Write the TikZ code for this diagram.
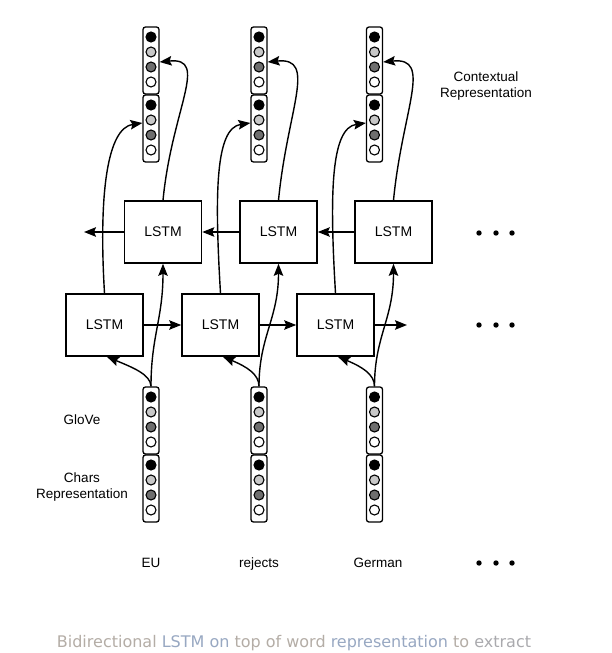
\documentclass[tikz,border=0pt]{standalone}
\usepackage{fontspec}
\setmainfont{Liberation Sans}
\newfontfamily\capfont{DejaVu Sans}
\usetikzlibrary{arrows.meta}
\definecolor{midgray}{RGB}{110,110,110}
\definecolor{lightgray}{RGB}{200,200,200}
\definecolor{captan}{RGB}{180,173,166}
\definecolor{capblue}{RGB}{152,168,194}
\definecolor{capgray}{RGB}{170,170,174}
\tikzset{
  vecbox/.style={draw, line width=1.3pt, rounded corners=2.5pt, minimum width=16pt, minimum height=67pt, inner sep=0pt},
  cdot/.style={draw, circle, line width=1.1pt, minimum size=10pt, inner sep=0pt},
  lstm/.style={draw, line width=1.6pt, minimum width=77pt, minimum height=62pt, inner sep=0pt, font=\fontsize{14}{16}\selectfont},
  arr/.style={line width=1.4pt, -{Stealth[length=12pt,width=9.5pt,inset=2pt]}},
  lbl/.style={font=\fontsize{13.5}{16}\selectfont, align=center, inner sep=0pt},
  ell/.style={circle, fill=black, minimum size=5.4pt, inner sep=0pt}
}
\newcommand\wordvec[3]{%
  \node[vecbox] (#1a) at (#2,#3+33.5) {};
  \node[vecbox] (#1b) at (#2,#3+101.5) {};
  \node[cdot, fill=black]     (#1a1) at (#2,#3+10) {};
  \node[cdot, fill=lightgray] (#1a2) at (#2,#3+25) {};
  \node[cdot, fill=midgray]   (#1a3) at (#2,#3+40) {};
  \node[cdot, fill=white]     (#1a4) at (#2,#3+55) {};
  \node[cdot, fill=black]     (#1b1) at (#2,#3+78) {};
  \node[cdot, fill=lightgray] (#1b2) at (#2,#3+93) {};
  \node[cdot, fill=midgray]   (#1b3) at (#2,#3+108) {};
  \node[cdot, fill=white]     (#1b4) at (#2,#3+123) {};
}
\begin{document}
\begin{tikzpicture}[x=1pt,y=-1pt]
\useasboundingbox (0,0) rectangle (611,653);
\fill[white] (0,0) rectangle (611,653);

% word vectors
\wordvec{t1}{151}{27}
\wordvec{t2}{259}{27}
\wordvec{t3}{374.5}{27}
\wordvec{b1}{151}{387}
\wordvec{b2}{259}{387}
\wordvec{b3}{374.5}{387}

% LSTM boxes
\node[lstm] (f1) at (104.5,325) {LSTM};
\node[lstm] (f2) at (220.5,325) {LSTM};
\node[lstm] (f3) at (335.5,325) {LSTM};
\node[lstm] (r1) at (163,232) {LSTM};
\node[lstm] (r2) at (278.5,232) {LSTM};
\node[lstm] (r3) at (393.5,232) {LSTM};

\coordinate (fend) at (407,325);
\coordinate (rend) at (84,232);

% horizontal arrows
\draw[arr] (f1.east) -- (f2.west);
\draw[arr] (f2.east) -- (f3.west);
\draw[arr] (f3.east) -- (fend);
\draw[arr] (r3.west) -- (r2.east);
\draw[arr] (r2.west) -- (r1.east);
\draw[arr] (r1.west) -- (rend);

% inputs to LSTMs and LSTMs to outputs
\foreach \i in {1,2,3}{
  \draw[arr] (b\i a.north) .. controls +(0,-12) and +(24,10) .. ([xshift=2.5pt]f\i.south);
  \draw[arr] (b\i a.north) .. controls +(0,-50) and +(0,55) .. (r\i.south);
  \draw[arr] (f\i.north) .. controls +(-6,-100) and +(-35,5) .. ([yshift=5.5pt]t\i b.west);
  \draw[arr] (r\i.north) .. controls +(9,-92) and +(50,-5) .. ([yshift=-1.5pt]t\i a.east);
}

% ellipses
\foreach \y/\n in {233/a,325/b,563/c}{
  \node[ell] (e\n1) at (479,\y) {};
  \node[ell] (e\n2) at (496,\y) {};
  \node[ell] (e\n3) at (512,\y) {};
}

% labels
\node[lbl] (ctx) at (486,86.5) {Contextual\\Representation};
\node[lbl, anchor=base] (glove) at (82,424) {GloVe};
\node[lbl] (chars) at (82,487) {Chars\\Representation};
\node[lbl, anchor=base] (w1) at (151,567) {EU};
\node[lbl, anchor=base] (w2) at (259,567) {rejects};
\node[lbl, anchor=base] (w3) at (378,567) {German};

% caption
\node[anchor=base, inner sep=0pt, font=\capfont\fontsize{16}{18}\selectfont] (cap) at (294,647.5)
  {\textcolor{captan}{Bidirectional} \textcolor{capblue}{LSTM} \textcolor{capblue}{on} \textcolor{captan}{top of} \textcolor{captan}{word} \textcolor{capblue}{representation} \textcolor{captan}{to} \textcolor{capgray}{extract}};
\end{tikzpicture}
\end{document}
